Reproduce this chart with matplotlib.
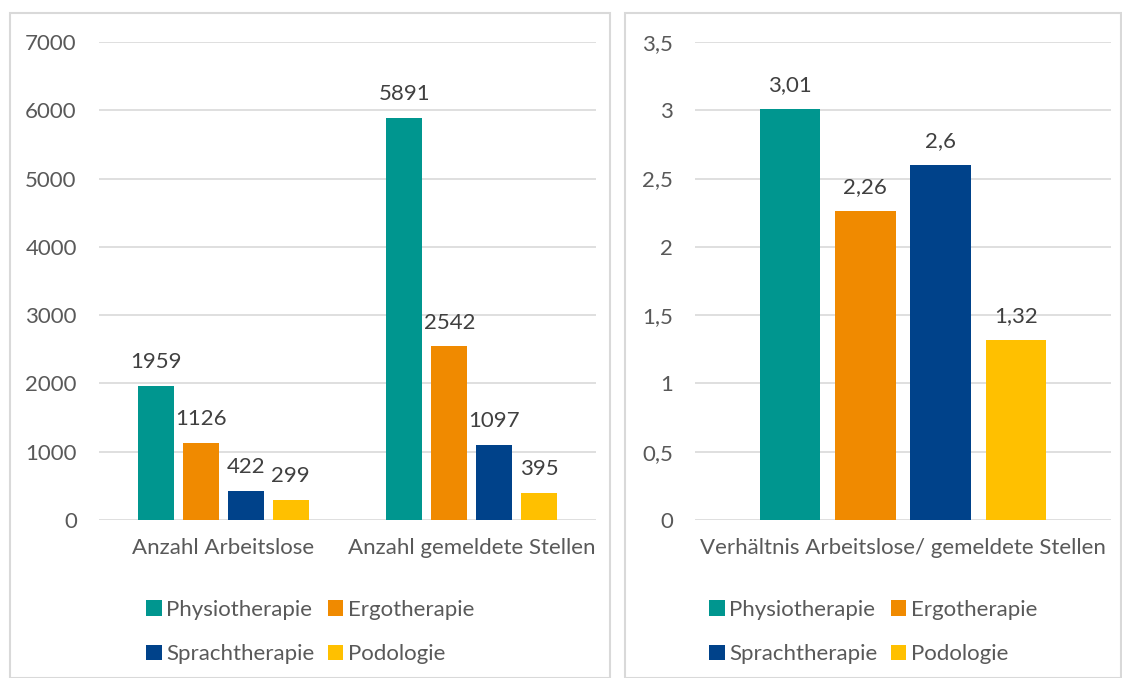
import matplotlib
matplotlib.use("Agg")
import matplotlib.pyplot as plt
from matplotlib.patches import Rectangle, Patch
from matplotlib.ticker import FuncFormatter

FS = 16

plt.rcParams.update({
    "font.family": "Lato",
    "font.size": FS,
    "text.color": "#595959",
    "xtick.color": "#595959",
    "ytick.color": "#595959",
})

# ---- Daten ----
berufe = ["Physiotherapie", "Ergotherapie", "Sprachtherapie", "Podologie"]
farben = ["#00968F", "#F08A00", "#00428A", "#FFC000"]

kategorien_links = ["Anzahl Arbeitslose", "Anzahl gemeldete Stellen"]
arbeitslose = [1959, 1126, 422, 299]
stellen = [5891, 2542, 1097, 395]

kategorie_rechts = ["Verhältnis Arbeitslose/ gemeldete Stellen"]
verhaeltnis = [3.01, 2.26, 2.6, 1.32]

W, H = 1122, 678
fig = plt.figure(figsize=(W / 100, H / 100), dpi=100)

# Rahmen der beiden Diagrammbereiche
for x0, x1 in [(10, 610), (625, 1121)]:
    fig.patches.append(Rectangle((x0 / W, 0), (x1 - x0) / W, (H - 13) / H,
                                 transform=fig.transFigure, fill=False,
                                 edgecolor="#D9D9D9", linewidth=1.5))

ax1 = fig.add_axes([99 / W, (H - 520) / H, 497 / W, 478 / H])
ax2 = fig.add_axes([695 / W, (H - 520) / H, 416 / W, 478 / H])

def komma(v, dec=None):
    s = f"{v:g}" if dec is None else f"{v:.{dec}f}"
    return s.replace(".", ",")

step = 0.181
width = 0.145

# ---- links ----
werte_links = list(zip(arbeitslose, stellen))
for i, (name, farbe) in enumerate(zip(berufe, farben)):
    pos = [k + (i - 1.5) * step for k in range(len(kategorien_links))]
    vals = [werte_links[i][0], werte_links[i][1]]
    ax1.bar(pos, vals, width, color=farbe, zorder=3)
    for p, v in zip(pos, vals):
        ax1.annotate(str(v), (p, v), xytext=(0, 10), textcoords="offset points",
                     ha="center", va="bottom", fontsize=FS, color="#404040")

ax1.set_ylim(0, 7000)
ax1.set_yticks(range(0, 7001, 1000))
ax1.set_xlim(-0.5, 1.5)
ax1.set_xticks(range(len(kategorien_links)))
ax1.set_xticklabels(kategorien_links)

# ---- rechts ----
for i, (name, farbe) in enumerate(zip(berufe, farben)):
    p = (i - 1.5) * step
    ax2.bar(p, verhaeltnis[i], width, color=farbe, zorder=3)
    ax2.annotate(komma(verhaeltnis[i]), (p, verhaeltnis[i]), xytext=(0, 10),
                 textcoords="offset points", ha="center", va="bottom",
                 fontsize=FS, color="#404040")

ax2.set_ylim(0, 3.5)
ax2.set_yticks([0, 0.5, 1, 1.5, 2, 2.5, 3, 3.5])
ax2.yaxis.set_major_formatter(FuncFormatter(lambda v, _: komma(v)))
ax2.set_xlim(-0.5, 0.5)
ax2.set_xticks([0])
ax2.set_xticklabels(kategorie_rechts)

for ax in (ax1, ax2):
    for s in ax.spines.values():
        s.set_visible(False)
    ax.yaxis.grid(True, color="#D9D9D9", linewidth=1.2)
    ax.set_axisbelow(True)
    ax.tick_params(axis="both", length=0, labelsize=FS)
    ax.tick_params(axis="y", pad=16)
    ax.tick_params(axis="x", pad=13)

# ---- Legenden ----
handles = [Patch(facecolor=f, edgecolor="none") for f in farben]
order = [0, 2, 1, 3]
for cx in (310, 873):
    fig.legend([handles[i] for i in order], [berufe[i] for i in order],
               loc="upper center", bbox_to_anchor=(cx / W, (H - 580) / H),
               ncol=2, frameon=False, handlelength=0.7, handleheight=0.7,
               handletextpad=0.2, columnspacing=0.6, labelspacing=1.1,
               fontsize=FS)

fig.savefig("out.png", dpi=100)
